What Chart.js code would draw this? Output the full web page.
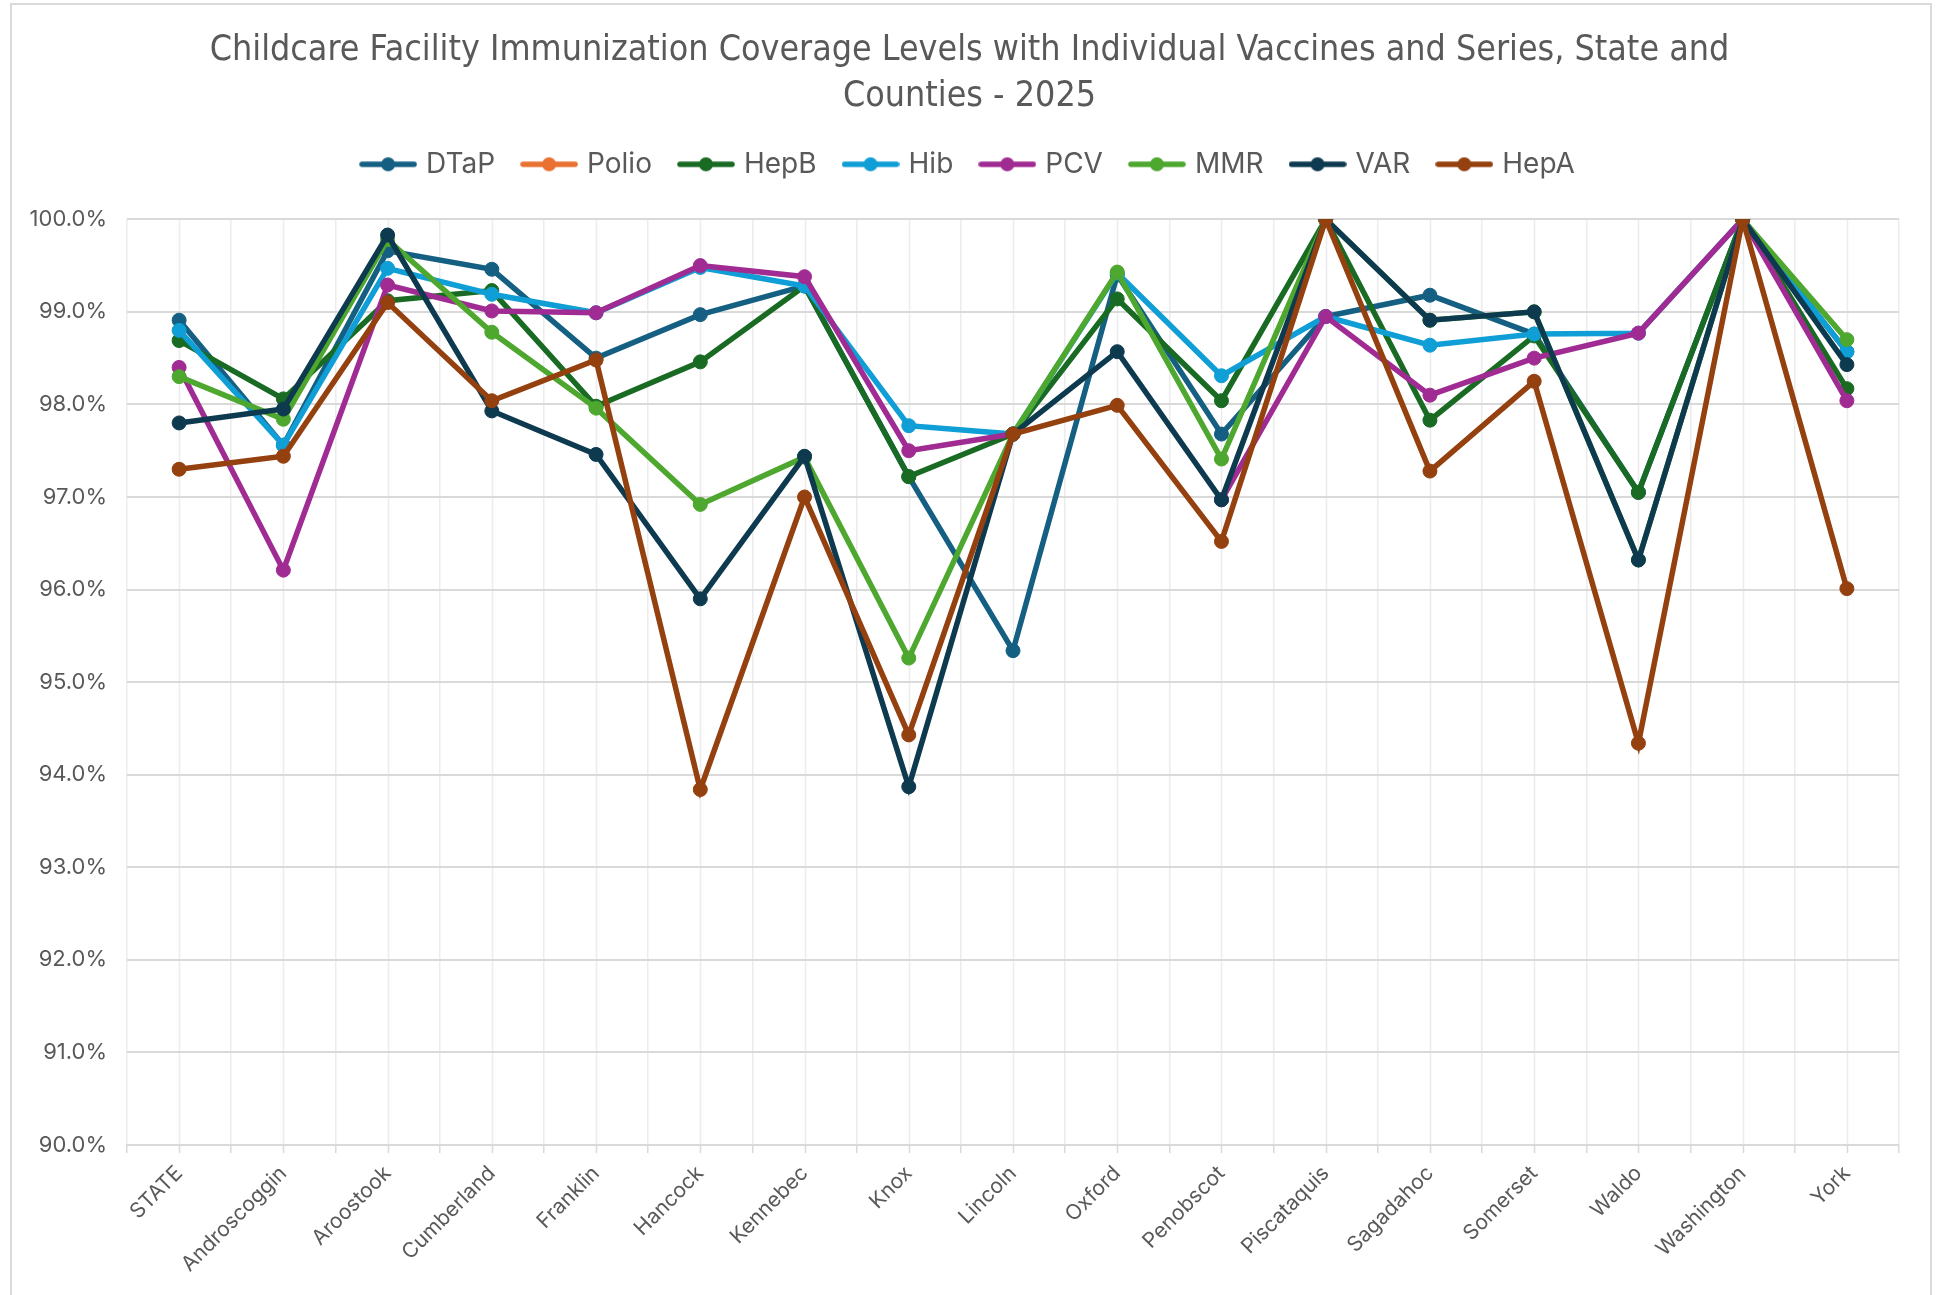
<!DOCTYPE html>
<html lang="en">
<head>
    <meta charset="UTF-8">
    <title>Childcare Facility Immunization Coverage Levels</title>
    <script src="https://cdn.jsdelivr.net/npm/chart.js"></script>
    <style>
        body { margin: 0; background: #ffffff; }
        .frame {
            position: absolute;
            left: 10px;
            top: 3px;
            width: 1918px;
            height: 1400px;
            border: 2px solid #d9d9d9;
        }
        #coverageChart { position: absolute; left: 0; top: 0; }
    </style>
</head>
<body>
    <div class="frame"></div>
    <canvas id="coverageChart" width="1939" height="1295"></canvas>

    <script>
        // Counties (plus the state total) along the x axis
        const counties = ['STATE', 'Androscoggin', 'Aroostook', 'Cumberland', 'Franklin', 'Hancock',
            'Kennebec', 'Knox', 'Lincoln', 'Oxford', 'Penobscot', 'Piscataquis', 'Sagadahoc',
            'Somerset', 'Waldo', 'Washington', 'York'];

        // Coverage in percent (null = not shown)
        const dtap  = [98.91, 97.56, 99.66, 99.46, 98.50, 98.97, 99.28, 97.22, 95.34, 99.40, 97.68, 98.95, 99.18, 98.76, 97.05, 100.0, 98.57];
        const polio = [null, null, null, null, null, null, null, null, null, null, null, null, null, null, null, null, null];
        const hepb  = [98.69, 98.06, 99.12, 99.23, 97.98, 98.46, 99.28, 97.22, 97.68, 99.14, 98.04, 100.0, 97.83, 98.74, 97.05, 100.0, 98.17];
        const hib   = [98.80, 97.56, 99.47, 99.19, 98.99, 99.48, 99.28, 97.77, 97.68, 99.42, 98.31, 98.95, 98.64, 98.76, 98.77, 100.0, 98.57];
        const pcv   = [98.40, 96.21, 99.29, 99.01, 98.99, 99.50, 99.38, 97.50, 97.68, null, 96.97, 98.95, 98.10, 98.50, 98.77, 100.0, 98.04];
        const mmr   = [98.30, 97.84, 99.78, 98.78, 97.96, 96.92, 97.43, 95.26, 97.68, 99.43, 97.41, 100.0, 98.91, 99.00, 96.32, 100.0, 98.70];
        const vari  = [97.80, 97.95, 99.83, 97.93, 97.46, 95.90, 97.44, 93.87, 97.68, 98.57, 96.97, 100.0, 98.91, 99.00, 96.32, 100.0, 98.43];
        const hepa  = [97.30, 97.44, 99.10, 98.04, 98.48, 93.84, 97.00, 94.43, 97.68, 97.99, 96.52, 100.0, 97.28, 98.25, 94.34, 100.0, 96.01];

        const seriesNames = ['DTaP', 'Polio', 'HepB', 'Hib', 'PCV', 'MMR', 'VAR', 'HepA'];
        const seriesData = [dtap, polio, hepb, hib, pcv, mmr, vari, hepa];
        const colors = ['#156082', '#e97132', '#196b24', '#0f9ed5', '#a02b93', '#4ea72e', '#0e3a50', '#94400f'];

        const textColor = '#595959';
        const bodyFont = 'Inter, "Open Sans", sans-serif';

        // little "line with a dot" icon for the legend, like Excel draws it
        function legendIcon(color) {
            const c = document.createElement('canvas');
            c.width = 58;
            c.height = 18;
            const g = c.getContext('2d');
            g.strokeStyle = color;
            g.lineWidth = 5.5;
            g.lineCap = 'round';
            g.beginPath();
            g.moveTo(3, 9);
            g.lineTo(55, 9);
            g.stroke();
            g.fillStyle = color;
            g.beginPath();
            g.arc(29, 9, 7, 0, Math.PI * 2);
            g.fill();
            return c;
        }

        const datasets = seriesNames.map((name, i) => ({
            label: name,
            data: seriesData[i],
            borderColor: colors[i],
            backgroundColor: colors[i],
            pointBackgroundColor: colors[i],
            pointBorderColor: colors[i],
            borderWidth: 5.5,
            pointRadius: 7,
            pointBorderWidth: 1,
            tension: 0,
            spanGaps: false,
            order: seriesNames.length - 1 - i   // later series drawn on top, as in Excel
        }));

        // light vertical lines through the category centres (boundaries come from the grid)
        const centreLines = {
            id: 'centreLines',
            beforeDraw(chart) {
                const x = chart.scales.x;
                const area = chart.chartArea;
                const ctx = chart.ctx;
                ctx.save();
                ctx.strokeStyle = '#ececec';
                ctx.lineWidth = 1.5;
                for (let i = 0; i < counties.length; i++) {
                    const px = Math.round(x.getPixelForValue(i)) + 0.5;
                    ctx.beginPath();
                    ctx.moveTo(px, area.top);
                    ctx.lineTo(px, area.bottom);
                    ctx.stroke();
                }
                ctx.strokeStyle = '#d9d9d9';
                for (let i = 0; i < counties.length; i++) {
                    const px = Math.round(x.getPixelForValue(i)) + 0.5;
                    ctx.beginPath();
                    ctx.moveTo(px, area.bottom);
                    ctx.lineTo(px, area.bottom + 8);
                    ctx.stroke();
                }
                ctx.restore();
            }
        };

        const ctx = document.getElementById('coverageChart').getContext('2d');
        const coverageChart = new Chart(ctx, {
            type: 'line',
            data: {
                labels: counties,
                datasets: datasets
            },
            plugins: [centreLines],
            options: {
                responsive: false,
                animation: false,
                layout: {
                    padding: { top: 28, left: 0, right: 0, bottom: 0 }
                },
                scales: {
                    x: {
                        offset: true,
                        grid: {
                            offset: true,
                            color: '#ececec',
                            lineWidth: 1.5,
                            tickLength: 8,
                            tickColor: '#d9d9d9'
                        },
                        border: { color: '#d9d9d9', width: 2 },
                        ticks: {
                            autoSkip: false,
                            minRotation: 45,
                            maxRotation: 45,
                            padding: 8,
                            color: textColor,
                            font: { family: bodyFont, size: 21 }
                        },
                        afterFit(scale) { scale.height = 150; }
                    },
                    y: {
                        min: 90,
                        max: 100,
                        grid: {
                            color: '#d9d9d9',
                            lineWidth: 2,
                            drawTicks: false
                        },
                        border: { display: false },
                        ticks: {
                            stepSize: 1,
                            padding: 20,
                            color: textColor,
                            font: { family: bodyFont, size: 22 },
                            callback: value => value.toFixed(1) + '%'
                        },
                        afterFit(scale) { scale.width = 127; }
                    },
                    // empty axis on the right, only to keep the margin there
                    yRight: {
                        position: 'right',
                        grid: { drawOnChartArea: false, drawTicks: false },
                        border: { display: false },
                        ticks: { display: false },
                        afterFit(scale) { scale.width = 40; }
                    }
                },
                plugins: {
                    title: {
                        display: true,
                        text: ['Childcare Facility Immunization Coverage Levels with Individual Vaccines and Series, State and',
                               'Counties - 2025'],
                        color: textColor,
                        font: { family: '"Liberation Sans Narrow", "DejaVu Sans Condensed", sans-serif', size: 35.5, weight: 'normal', lineHeight: 1.3 },
                        padding: { top: 0, bottom: 0 }
                    },
                    subtitle: {
                        // empty spacer between legend and plot area
                        display: true,
                        text: ' ',
                        weight: 500,
                        font: { size: 10, lineHeight: 1 },
                        padding: { top: 0, bottom: 21 }
                    },
                    legend: {
                        position: 'top',
                        labels: {
                            usePointStyle: true,
                            pointStyleWidth: 48,
                            padding: 30,
                            color: textColor,
                            font: { family: bodyFont, size: 28 },
                            sort: (a, b) => a.datasetIndex - b.datasetIndex,
                            generateLabels(chart) {
                                const items = Chart.defaults.plugins.legend.labels.generateLabels(chart);
                                items.forEach(item => {
                                    item.pointStyle = legendIcon(colors[item.datasetIndex]);
                                });
                                return items;
                            }
                        }
                    },
                    tooltip: { enabled: false }
                }
            }
        });
    </script>
</body>
</html>
